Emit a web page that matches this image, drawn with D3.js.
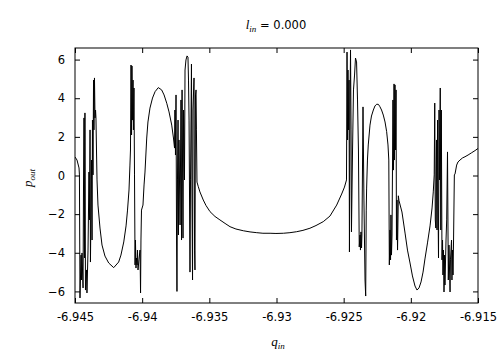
<!DOCTYPE html>
<html><head><meta charset="utf-8">
<script src="https://cdn.jsdelivr.net/npm/d3@7"></script>
<style>
body{margin:0;background:#fff;}
svg{display:block;}
.tick text{font-family:"DejaVu Sans",sans-serif;font-size:11.5px;fill:#000;}
.math{font-family:"Liberation Serif",serif;font-style:italic;fill:#000;}
</style></head>
<body><svg id="c" width="504" height="354"></svg>
<script>
const xTicks = [-6.945,-6.94,-6.935,-6.93,-6.925,-6.92,-6.915];
const xTickLabels = ["-6.945","-6.94","-6.935","-6.93","-6.925","-6.92","-6.915"];
const yTicks = [-6,-4,-2,0,2,4,6];
const qIn = [
-6.94500,-6.94485,-6.94470,-6.94467,-6.94463,-6.94455,-6.94452,-6.94448,-6.94440,-6.94437,
-6.94433,-6.94429,-6.94426,-6.94422,-6.94414,-6.94411,-6.94403,-6.94396,-6.94392,-6.94388,
-6.94385,-6.94377,-6.94373,-6.94370,-6.94366,-6.94362,-6.94359,-6.94355,-6.94351,-6.94347,
-6.94344,-6.94340,-6.94336,-6.94329,-6.94314,-6.94299,-6.94277,-6.94249,-6.94212,-6.94175,
-6.94158,-6.94137,-6.94120,-6.94109,-6.94098,-6.94091,-6.94087,-6.94083,-6.94079,-6.94076,
-6.94072,-6.94068,-6.94065,-6.94061,-6.94057,-6.94053,-6.94050,-6.94046,-6.94042,-6.94038,
-6.94035,-6.94031,-6.94024,-6.94016,-6.94012,-6.94009,-6.94005,-6.93994,-6.93986,-6.93979,
-6.93966,-6.93957,-6.93942,-6.93923,-6.93904,-6.93880,-6.93855,-6.93837,-6.93817,-6.93800,
-6.93780,-6.93767,-6.93759,-6.93756,-6.93752,-6.93748,-6.93744,-6.93741,-6.93737,-6.93733,
-6.93730,-6.93726,-6.93718,-6.93711,-6.93707,-6.93703,-6.93696,-6.93692,-6.93685,-6.93681,
-6.93674,-6.93666,-6.93659,-6.93655,-6.93651,-6.93644,-6.93640,-6.93633,-6.93629,-6.93625,
-6.93622,-6.93614,-6.93610,-6.93607,-6.93603,-6.93599,-6.93596,-6.93592,-6.93582,-6.93570,
-6.93545,-6.93525,-6.93495,-6.93458,-6.93421,-6.93383,-6.93346,-6.93302,-6.93247,-6.93197,
-6.93147,-6.93101,-6.93048,-6.93004,-6.92949,-6.92900,-6.92850,-6.92803,-6.92751,-6.92706,
-6.92652,-6.92602,-6.92552,-6.92515,-6.92494,-6.92479,-6.92475,-6.92471,-6.92468,-6.92464,
-6.92460,-6.92457,-6.92453,-6.92449,-6.92445,-6.92442,-6.92434,-6.92427,-6.92419,-6.92412,
-6.92404,-6.92397,-6.92390,-6.92384,-6.92378,-6.92375,-6.92371,-6.92367,-6.92364,-6.92356,
-6.92349,-6.92341,-6.92336,-6.92332,-6.92329,-6.92323,-6.92317,-6.92304,-6.92293,-6.92279,
-6.92267,-6.92254,-6.92241,-6.92230,-6.92218,-6.92205,-6.92192,-6.92180,-6.92170,-6.92164,
-6.92160,-6.92155,-6.92151,-6.92148,-6.92144,-6.92140,-6.92133,-6.92129,-6.92125,-6.92122,
-6.92118,-6.92114,-6.92110,-6.92107,-6.92103,-6.92099,-6.92093,-6.92088,-6.92066,-6.92043,
-6.92025,-6.92006,-6.91988,-6.91969,-6.91954,-6.91939,-6.91924,-6.91909,-6.91895,-6.91876,
-6.91857,-6.91842,-6.91833,-6.91826,-6.91822,-6.91818,-6.91814,-6.91809,-6.91805,-6.91801,
-6.91798,-6.91794,-6.91790,-6.91787,-6.91781,-6.91777,-6.91773,-6.91768,-6.91764,-6.91761,
-6.91757,-6.91753,-6.91749,-6.91746,-6.91738,-6.91733,-6.91727,-6.91721,-6.91716,-6.91708,
-6.91705,-6.91697,-6.91694,-6.91690,-6.91686,-6.91682,-6.91676,-6.91671,-6.91659,-6.91649,
-6.91634,-6.91615,-6.91597,-6.91574,-6.91547,-6.91522,-6.91500
];
const pOut = [
0.96,0.80,0.39,0.03,-6.34,-4.12,-5.41,-4.01,-5.82,-1.01,
2.98,-4.27,3.24,-5.93,-4.89,-6.08,-3.86,0.18,-2.30,2.36,
-4.48,0.80,-3.34,2.87,0.03,4.94,2.36,5.05,2.98,3.39,
2.98,1.32,-0.23,-1.53,-2.72,-3.60,-4.17,-4.53,-4.77,-4.48,
-4.12,-3.44,-2.61,-1.79,-0.75,0.54,1.32,5.72,2.10,5.67,
2.87,4.94,2.36,4.53,0.03,-4.63,-3.34,-4.79,-4.27,-4.63,
-3.86,-4.89,-4.37,-3.86,-6.08,-3.34,-1.79,-1.53,-0.49,0.18,
1.94,2.77,3.49,4.01,4.34,4.55,4.43,4.17,3.74,3.29,
2.61,1.94,1.42,3.39,1.06,4.17,-3.34,-6.00,-0.23,2.87,
-3.08,1.84,-2.56,3.91,-3.34,4.43,-3.24,3.39,-0.23,5.46,
5.98,6.19,6.13,4.94,2.87,-5.00,-0.23,5.77,-1.27,-5.41,
3.39,5.05,-3.86,-4.89,4.17,4.43,2.36,-0.34,-0.58,-0.85,
-1.27,-1.55,-1.87,-2.12,-2.30,-2.48,-2.65,-2.77,-2.86,-2.92,
-2.96,-2.99,-2.99,-3.00,-2.99,-2.96,-2.91,-2.84,-2.73,-2.59,
-2.39,-2.10,-1.53,-0.96,-0.60,-0.23,6.39,1.84,5.46,2.36,
4.94,-3.96,3.39,6.50,2.36,-2.92,1.32,4.43,5.20,6.08,
5.88,3.91,1.32,-3.70,-3.08,-3.86,-2.92,-3.75,-3.08,3.55,
-1.27,-5.41,-6.24,-1.79,-0.65,0.80,1.58,2.61,3.08,3.39,
3.60,3.69,3.68,3.56,3.39,3.13,2.77,2.27,1.58,0.80,
-4.63,-2.82,-4.37,-2.04,-4.12,-3.08,3.91,0.28,4.74,0.80,
4.69,1.32,4.43,-3.34,-1.27,-3.86,-1.05,-1.30,-1.89,-2.98,
-3.86,-4.53,-5.20,-5.72,-5.93,-5.82,-5.51,-5.00,-4.32,-3.49,
-2.61,-1.68,-0.85,0.03,3.75,-2.30,-2.72,1.84,-2.82,2.87,
-1.27,-4.27,3.39,-0.23,4.53,-2.82,3.39,-4.37,-3.34,-5.15,
-3.86,-6.03,-4.12,-5.67,-3.34,-2.30,1.22,-5.41,-3.60,-6.03,
-4.37,-3.34,-5.41,-3.86,-5.15,-3.34,0.03,0.08,0.54,0.70,
0.80,0.91,0.97,1.06,1.18,1.29,1.40
];

const svg = d3.select("#c");
const L=75, R=478, T=48, B=303;
const x = d3.scaleLinear().domain([-6.945,-6.915]).range([L,R]);
const y = d3.scaleLinear().domain([-6.6,6.6]).range([B,T]);

const data = qIn.map((q,i)=>[q,pOut[i]]);

svg.append("defs").append("clipPath").attr("id","clip")
  .append("rect").attr("x",L).attr("y",T).attr("width",R-L).attr("height",B-T);

svg.append("path").datum(data)
  .attr("clip-path","url(#clip)")
  .attr("fill","none").attr("stroke","#000").attr("stroke-width",1)
  .attr("d", d3.line().x(d=>x(d[0])).y(d=>y(d[1])));

const fmtX = (d,i)=>xTickLabels[i];
const gB = svg.append("g").attr("transform",`translate(0,${B})`)
  .call(d3.axisBottom(x).tickValues(xTicks).tickFormat(fmtX).tickSizeInner(-5).tickSizeOuter(0).tickPadding(10));
const gT = svg.append("g").attr("transform",`translate(0,${T})`)
  .call(d3.axisTop(x).tickValues(xTicks).tickFormat("").tickSizeInner(-5).tickSizeOuter(0));
const gL = svg.append("g").attr("transform",`translate(${L},0)`)
  .call(d3.axisLeft(y).tickValues(yTicks).tickFormat(d3.format("d")).tickSizeInner(-5).tickSizeOuter(0).tickPadding(10));
const gR = svg.append("g").attr("transform",`translate(${R},0)`)
  .call(d3.axisRight(y).tickValues(yTicks).tickFormat("").tickSizeInner(-5).tickSizeOuter(0));
[gB,gT,gL,gR].forEach(g=>{g.select(".domain").remove(); g.selectAll("line").attr("stroke","#000");});

svg.append("rect").attr("x",L).attr("y",T).attr("width",R-L).attr("height",B-T)
  .attr("fill","none").attr("stroke","#000").attr("stroke-width",1);

// title
const t = svg.append("text").attr("x",276).attr("y",29).attr("text-anchor","middle").attr("class","math").style("font-size","13px");
t.append("tspan").text("l");
t.append("tspan").attr("dy",3).style("font-size","9px").text("in");
t.append("tspan").attr("dy",-3).style("font-style","normal").style("font-family","DejaVu Sans").style("font-size","11.5px").text(" = 0.000");

const xl = svg.append("text").attr("x",278).attr("y",346).attr("text-anchor","middle").attr("class","math").style("font-size","13px");
xl.append("tspan").text("q");
xl.append("tspan").attr("dy",3).style("font-size","9px").text("in");

const yl = svg.append("text").attr("transform","translate(32,178) rotate(-90)").attr("text-anchor","middle").attr("class","math").style("font-size","13px");
yl.append("tspan").text("p");
yl.append("tspan").attr("dy",3).style("font-size","9px").text("out");
</script></body></html>
